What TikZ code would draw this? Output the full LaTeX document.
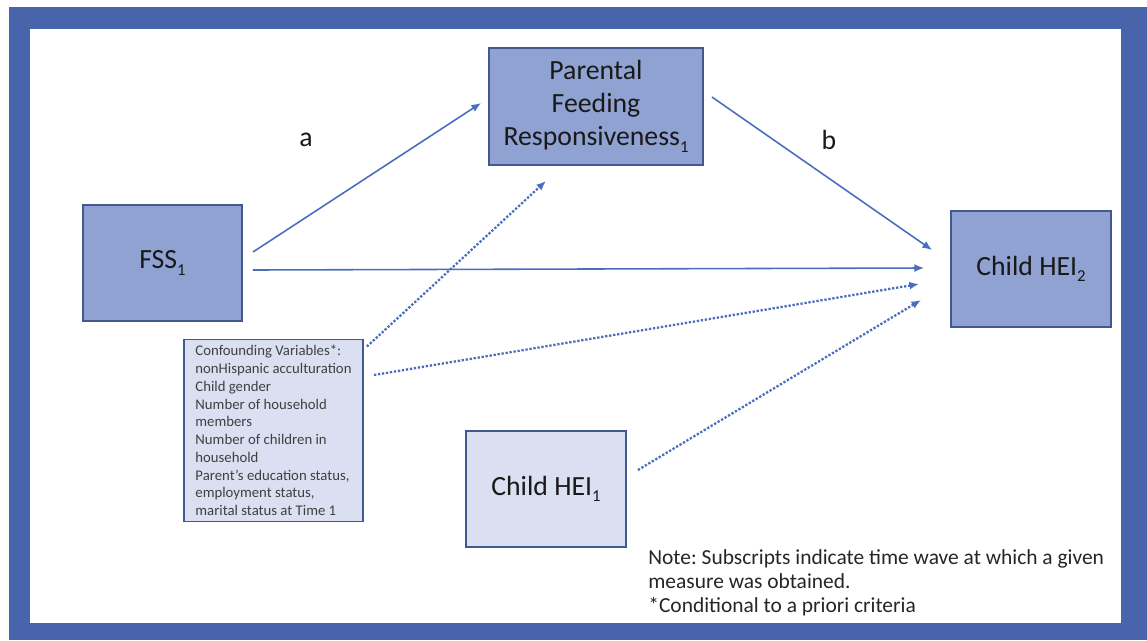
\documentclass[tikz,border=0pt]{standalone}
\usepackage{fontspec}
\setmainfont{Carlito}
\usetikzlibrary{calc,arrows.meta}

\definecolor{frameblue}{HTML}{4865AC}
\definecolor{boxfill}{HTML}{8FA2D2}
\definecolor{boxline}{HTML}{42598F}
\definecolor{lightfill}{HTML}{DAE0F2}
\definecolor{arrowblue}{HTML}{4A6EBE}

\newcommand{\wavesub}[1]{\raisebox{-0.5ex}{\fontsize{9.5}{9.5}\selectfont #1}}
\frenchspacing
\begin{document}
\begin{tikzpicture}[x=0.02cm,y=-0.02cm,
		varbox/.style={rectangle,draw=boxline,line width=1.1pt,fill=boxfill,align=center,
			font=\fontsize{15.8}{18.7}\selectfont,text=black!90},
		lightbox/.style={varbox,fill=lightfill},
		arr/.style={draw=arrowblue,line width=0.9pt,-{Latex[length=5.5pt,width=4.5pt]}},
		dotarr/.style={arr,line width=1.3pt,densely dotted}]
			\useasboundingbox (0,0) rectangle (1147,640);
			% frame
			\fill[frameblue] (9,7) rectangle (1147,640);
			\fill[white] (30,29) rectangle (1121,623);
			
			\begin{scope}[every node/.style={minimum width=3.2cm,minimum height=2.32cm}]
				\node[varbox,minimum width=4.28cm,minimum height=2.34cm] (pfr) at (596,106.5) {Parental\\Feeding\\Responsiveness\wavesub{1}};
				\node[varbox,minimum width=3.18cm] (fss) at (162.5,263) {FSS\wavesub{1}};
				\node[varbox] (hei2) at (1031,269) {Child HEI\wavesub{2}};
				\node[lightbox] (hei1) at (546,489) {Child HEI\wavesub{1}};
			\end{scope}
			
			\node[lightbox,align=left,minimum width=3.58cm,minimum height=3.62cm,
				font=\fontsize{8.4}{10.1}\selectfont,text=black!75] (conf) at (273.5,430.5)
				{Confounding Variables*:\\nonHispanic acculturation\\Child gender\\Number of household\\members\\Number of children in\\household\\Parent's education status,\\employment status,\\marital status at Time 1};
			
			\begin{scope}[every node/.style={font=\fontsize{15.8}{18.7}\selectfont,text=black!90}]
				\node (lbla) at (306,140) {a};
				\node (lblb) at (829,140) {b};
			\end{scope}
			
			\node[anchor=north west,inner sep=0pt,align=left,font=\fontsize{12.2}{13.6}\selectfont,text=black!85] (note) at (648,549)
				{Note: Subscripts indicate time wave at which a given\\measure was obtained.\\*Conditional to a priori criteria};
			
			\begin{scope}
				\draw[arr] ($(fss.east)+(10,-11)$) -- ($(pfr.west)+(-7,-3.5)$);
				\draw[arr] ($(pfr.east)+(8,-9.5)$) -- ($(hei2.west)+(-18,-19)$);
				\draw[arr] ($(fss.east)+(10,7)$) -- ($(hei2.west)+(-26,-1)$);
				\draw[dotarr] ($(conf.north east)+(3,8)$) -- ($(pfr.south)+(-50,15)$);
				\draw[dotarr] ($(conf.east)+(10,-55.5)$) -- ($(hei2.west)+(-31,15)$);
				\draw[dotarr] ($(hei1.east)+(11,-19)$) -- ($(hei2.west)+(-29,31)$);
			\end{scope}
		\end{tikzpicture}
\end{document}
